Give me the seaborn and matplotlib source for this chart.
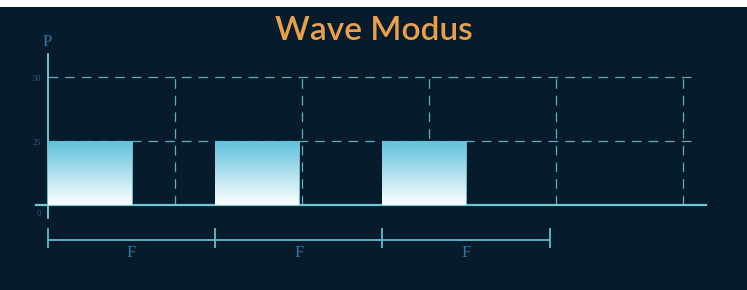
import numpy as np
import matplotlib
matplotlib.use("Agg")
import matplotlib.pyplot as plt
from matplotlib.colors import LinearSegmentedColormap
from matplotlib.patches import Rectangle
import seaborn as sns

# square wave: pulse centres (in half-periods), pulse heights
pulse_centers = [0.5, 2.5, 4.5]
pulse_heights = [25, 25, 25]
period_starts = [0, 2, 4, 6]
period_labels = ["F", "F", "F"]
y_ticks = [0, 25, 50]
grid_x = [1.52, 3.04, 4.56, 6.08, 7.6]
title = "Wave Modus"
y_label = "P"

bg = "#061b2c"
line_col = "#6fc6d6"
grid_col = "#60adbd"
text_col = "#3572a3"

sns.set_style("dark", {"axes.facecolor": bg, "figure.facecolor": bg})
plt.rcParams["lines.scale_dashes"] = False

fig = plt.figure(figsize=(7.47, 2.90), dpi=100)
ax = fig.add_axes([36 / 747, 1 - 218 / 290, 670 / 747, 164 / 290])
ax.set_facecolor(bg)

sns.barplot(x=pulse_centers, y=pulse_heights, native_scale=True, width=0.5,
            color="#6cc6dc", edgecolor="#7cc9d8", linewidth=0.6,
            ax=ax, zorder=3)

# vertical gradient fill inside each pulse
grad = np.linspace(1, 0, 256).reshape(-1, 1)
cmap = LinearSegmentedColormap.from_list("g", ["#ffffff", "#5fc1dc"])
for p in ax.patches:
    x0, y0 = p.get_x(), p.get_y()
    w, h = p.get_width(), p.get_height()
    im = ax.imshow(grad, cmap=cmap, extent=[x0, x0 + w, y0, y0 + h],
                   aspect="auto", zorder=3.5, vmin=0, vmax=1, origin="upper")
    im.set_clip_path(p)

ax.set_xlim(-0.1435, 7.871)
ax.set_ylim(-5.08, 59)

# dashed grid
ax.hlines([25, 50], 0, 7.70, colors=grid_col, linewidth=0.9,
          linestyles=(0, (7, 5)), zorder=2)
ax.vlines(grid_x, 0, 50, colors=grid_col, linewidth=0.9,
          linestyles=(0, (7, 5)), zorder=2)

# spines
for s in ["top", "right"]:
    ax.spines[s].set_visible(False)
ax.spines["left"].set_position(("data", 0))
ax.spines["bottom"].set_position(("data", 0))
ax.spines["left"].set_color("#7fcfdc")
ax.spines["bottom"].set_color(line_col)
ax.spines["left"].set_linewidth(1.3)
ax.spines["bottom"].set_linewidth(1.6)
ax.set_xticks([])
ax.set_yticks([])

# y tick labels
offs = {0: -9, 25: -2, 50: -2}
for v in y_ticks:
    ax.annotate(str(v), (0, v), xytext=(-5, offs[v] * 0.72), textcoords="offset points",
                ha="right", va="center", fontsize=6, color="#2f5f88",
                family="Liberation Serif", annotation_clip=False)

# axis label P
fig.text(47 / 747, 1 - 42 / 290, y_label, ha="center", va="center",
         fontsize=12, color=text_col, family="Liberation Serif")

# period brackets below
yb = -13.7
ax.hlines(yb, period_starts[0], period_starts[-1], colors="#5db0c2",
          linewidth=1.4, clip_on=False)
ax.vlines(period_starts, -9.0, -16.8, colors="#5db0c2", linewidth=1.4,
          clip_on=False)
for i, lab in enumerate(period_labels):
    xc = (period_starts[i] + period_starts[i + 1]) / 2
    ax.text(xc, -18.6, lab, ha="center", va="center",
            fontsize=12, color=text_col, family="Liberation Serif", clip_on=False)

fig.text(0.5007, 1 - 31 / 290, title, ha="center", va="center",
         fontsize=24, color="#e8a04b", family="Lato", fontweight="semibold")

fig.patches.append(Rectangle((0, 1 - 7 / 290), 1, 7 / 290, transform=fig.transFigure,
                             facecolor="white", edgecolor="none", zorder=10))

fig.savefig("out.png", dpi=100, facecolor=bg)
